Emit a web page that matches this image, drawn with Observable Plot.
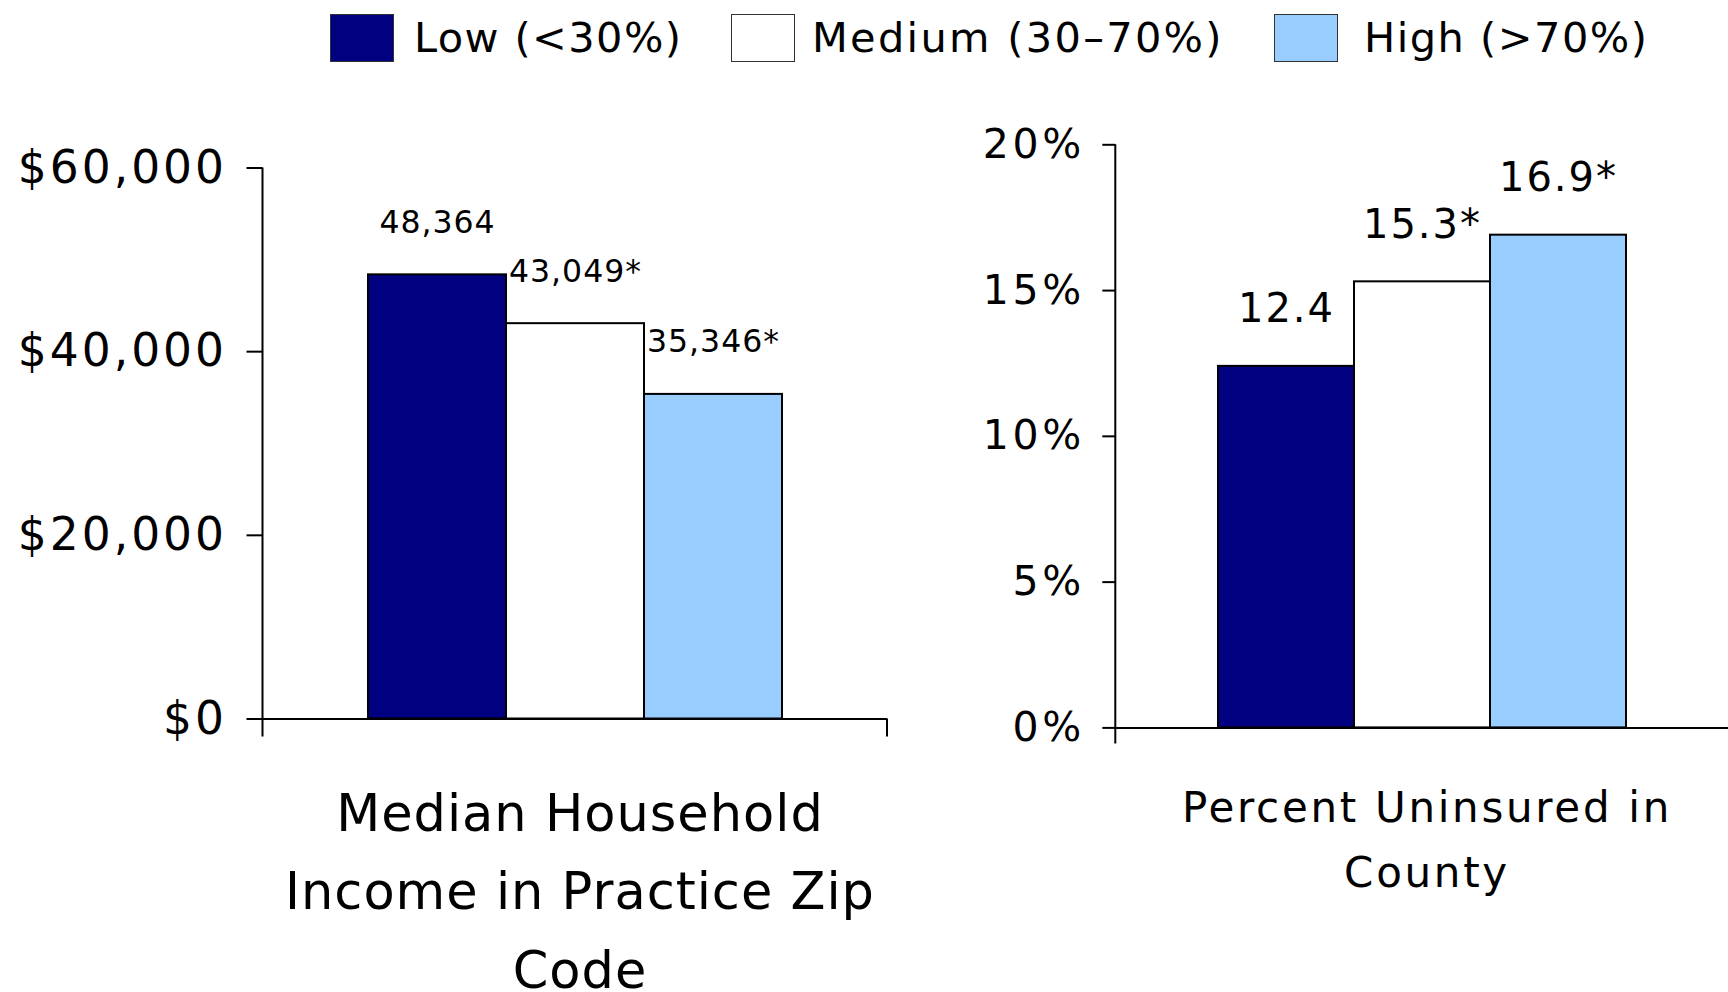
<!DOCTYPE html>
<html>
<head>
<meta charset="utf-8">
<script src="https://cdn.jsdelivr.net/npm/d3@7"></script>
<script src="https://cdn.jsdelivr.net/npm/@observablehq/plot@0.6"></script>
<style>
  html, body { margin: 0; padding: 0; background: #ffffff; }
  body { font-family: "DejaVu Sans", Verdana, sans-serif; color: #000; }
  #root { position: relative; width: 1728px; height: 992px; overflow: hidden; }
  .abs { position: absolute; }
  .swatch { position: absolute; top: 14px; width: 64px; height: 48px; box-sizing: border-box; border: 1.5px solid #333; }
  .legtext { position: absolute; top: 14px; font-size: 41.5px; line-height: 48px; white-space: nowrap; }
  .tline { position: absolute; white-space: nowrap; transform: translateX(-50%); text-align: center; }
</style>
</head>
<body>
<div id="root"></div>
<script>
// ---- data ----
const keys = ["Low", "Medium", "High"];
const legendLabels = ["Low (<30%)", "Medium (30–70%)", "High (>70%)"];
const colors = ["#000080", "#ffffff", "#99ccff"];

const incomeValues = [48364, 43049, 35346];
const incomeSignificant = [false, true, true];
const incomeTicks = [0, 20000, 40000, 60000];
const incomeTitle = ["Median Household", "Income in Practice Zip", "Code"];

const uninsuredValues = [12.4, 15.3, 16.9];
const uninsuredSignificant = [false, true, true];
const uninsuredTicks = [0, 5, 10, 15, 20];
const uninsuredTitle = ["Percent Uninsured in", "County"];

// ---- layout ----
const root = document.getElementById("root");

// legend
const legendSwatchLeft = [330, 731, 1274];
const legendTextLeft = [414, 812, 1364];
const legendSpacing = [1.4, 2.3, 1.5];
legendLabels.forEach((lab, i) => {
  const sw = document.createElement("div");
  sw.className = "swatch";
  sw.style.left = legendSwatchLeft[i] + "px";
  sw.style.background = colors[i];
  root.appendChild(sw);
  const t = document.createElement("div");
  t.className = "legtext";
  t.style.left = legendTextLeft[i] + "px";
  t.style.letterSpacing = legendSpacing[i] + "px";
  t.textContent = lab;
  root.appendChild(t);
});

function axisLines(extendTick, rightTick) {
  return (index, scales, values, dims) => {
    const g = d3.create("svg:g").attr("stroke", "#000").attr("stroke-width", 2).attr("fill", "none");
    const x0 = dims.marginLeft;
    const x1 = dims.width - dims.marginRight;
    const y0 = scales.y(0);
    g.append("line").attr("x1", x0).attr("x2", x0).attr("y1", dims.marginTop).attr("y2", y0 + extendTick);
    if (rightTick) g.append("line").attr("x1", x1).attr("x2", x1).attr("y1", y0).attr("y2", y0 + extendTick);
    return g.node();
  };
}

function barChart(opts) {
  const data = keys.map((k, i) => ({
    key: k,
    value: opts.values[i],
    label: opts.labelFormat(opts.values[i]) + (opts.sig[i] ? "*" : "")
  }));
  const svg = Plot.plot({
    width: opts.width,
    height: opts.height,
    marginLeft: opts.marginLeft,
    marginRight: opts.marginRight,
    marginTop: opts.marginTop,
    marginBottom: opts.marginBottom,
    style: {
      fontFamily: "'DejaVu Sans', Verdana, sans-serif",
      background: "transparent",
      color: "#000",
      overflow: "visible",
      letterSpacing: opts.letterSpacing
    },
    x: { domain: keys, paddingInner: 0, paddingOuter: 0.747, axis: null },
    y: { domain: opts.domain },
    color: { domain: keys, range: colors },
    marks: [
      Plot.barY(data, { x: "key", y: "value", fill: "key", stroke: "#000", strokeWidth: 2 }),
      Plot.axisY({
        ticks: opts.ticks,
        tickFormat: opts.tickFormat,
        tickSize: opts.tickSize,
        tickPadding: opts.tickPadding,
        fontSize: opts.tickFontSize,
        label: null,
        strokeWidth: 2,
        stroke: "#000",
        fill: "#000"
      }),
      Plot.ruleY([0], { stroke: "#000", strokeWidth: 2 }),
      axisLines(opts.extendTick, opts.rightTick),
      Plot.text(data, {
        x: "key", y: "value", text: "label",
        dy: opts.labelDy, fontSize: opts.labelFontSize, fill: "#000", lineAnchor: "middle"
      })
    ]
  });
  // wider tick-label spacing, as in the reference
  svg.querySelectorAll('g[aria-label="y-axis tick label"]').forEach(g => {
    g.setAttribute("letter-spacing", opts.tickLetterSpacing);
  });
  return svg;
}

// left chart
const left = barChart({
  values: incomeValues, sig: incomeSignificant,
  labelFormat: d3.format(","),
  domain: [0, 60000], ticks: incomeTicks,
  tickFormat: d => "$" + d3.format(",")(d),
  width: 900, height: 760,
  marginLeft: 262.5, marginRight: 13, marginTop: 167.5, marginBottom: 41.5,
  tickSize: 16, tickPadding: 20, tickFontSize: 45.5, tickLetterSpacing: "3px",
  labelFontSize: 31.5, labelDy: -52,
  extendTick: 18, rightTick: true,
  letterSpacing: "1px"
});
const leftWrap = document.createElement("div");
leftWrap.className = "abs";
leftWrap.style.left = "0px";
leftWrap.style.top = "0px";
leftWrap.appendChild(left);
root.appendChild(leftWrap);

// right chart
const right = barChart({
  values: uninsuredValues, sig: uninsuredSignificant,
  labelFormat: d3.format(".1f"),
  domain: [0, 20], ticks: uninsuredTicks,
  tickFormat: d => d + "%",
  width: 828, height: 780,
  marginLeft: 215.3, marginRight: 0, marginTop: 144.3, marginBottom: 52.6,
  tickSize: 13, tickPadding: 18, tickFontSize: 41, tickLetterSpacing: "3.6px",
  labelFontSize: 40, labelDy: -57,
  extendTick: 16, rightTick: false,
  letterSpacing: "2px"
});
const rightWrap = document.createElement("div");
rightWrap.className = "abs";
rightWrap.style.left = "900px";
rightWrap.style.top = "0px";
rightWrap.appendChild(right);
root.appendChild(rightWrap);

// titles: each line is placed by its baseline, with a tight line box
function addTitle(lines, cx, firstBaseline, fontSize, lineStep, ls) {
  const boxH = fontSize * 0.8;
  const baseOffset = boxH / 2 + 0.346 * fontSize;
  lines.forEach((l, i) => {
    const d = document.createElement("div");
    d.className = "tline";
    d.style.left = cx + "px";
    d.style.top = (firstBaseline + i * lineStep - baseOffset) + "px";
    d.style.fontSize = fontSize + "px";
    d.style.lineHeight = boxH + "px";
    d.style.letterSpacing = ls + "px";
    d.textContent = l;
    root.appendChild(d);
  });
}
addTitle(incomeTitle, 580, 831.7, 51, 78.5, 1);
addTitle(uninsuredTitle, 1427, 822.7, 42, 65, 2.7);
</script>
</body>
</html>
